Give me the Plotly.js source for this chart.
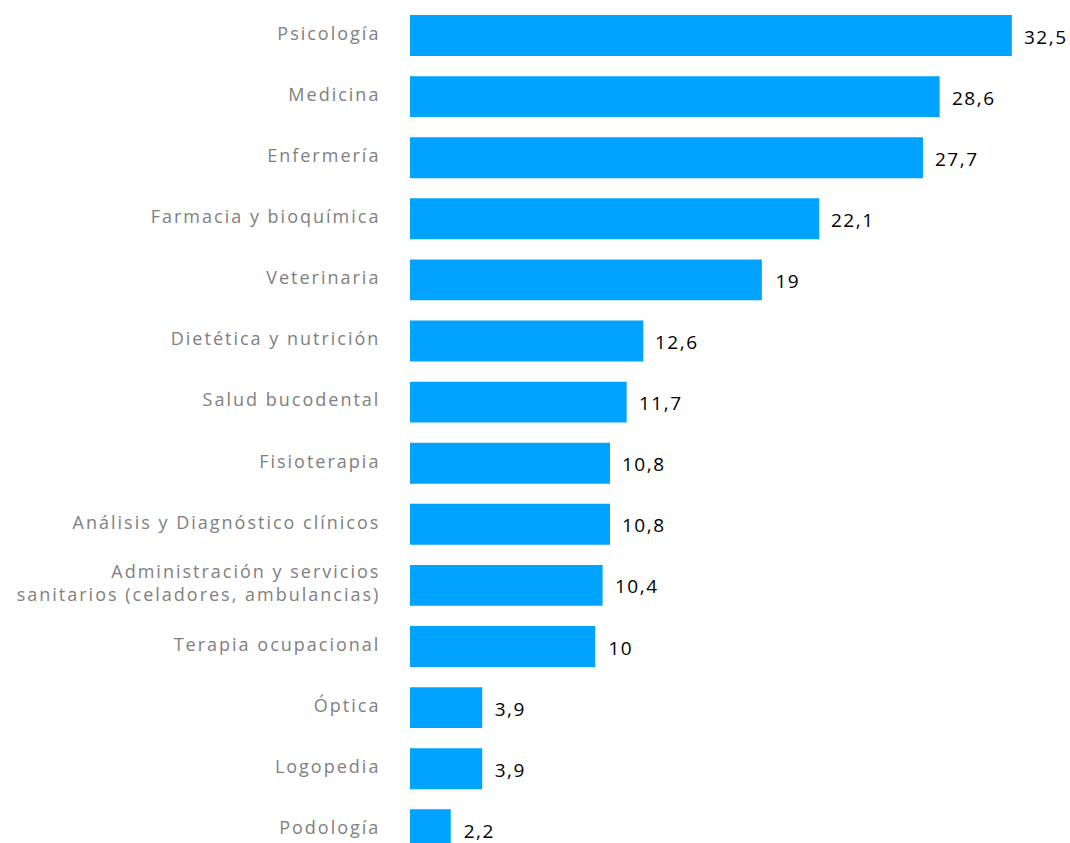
<!DOCTYPE html>
<html>
<head>
<meta charset="utf-8">
<script src="https://cdn.plot.ly/plotly-3.0.1.min.js"></script>
<style>
html,body{margin:0;padding:0;background:#fff;}
#chart{width:1070px;height:843px;}
#chart .ytick text{letter-spacing:2px;}
#chart .annotation-text{letter-spacing:1.5px;}
</style>
</head>
<body>
<div id="chart"></div>
<script>
const categories = [
  "Psicología",
  "Medicina",
  "Enfermería",
  "Farmacia y bioquímica",
  "Veterinaria",
  "Dietética y nutrición",
  "Salud bucodental",
  "Fisioterapia",
  "Análisis y Diagnóstico clínicos",
  "Administración y servicios<br>sanitarios (celadores, ambulancias)",
  "Terapia ocupacional",
  "Óptica",
  "Logopedia",
  "Podología"
];
const values = [32.5, 28.6, 27.7, 22.1, 19, 12.6, 11.7, 10.8, 10.8, 10.4, 10, 3.9, 3.9, 2.2];
const valueLabels = ["32,5", "28,6", "27,7", "22,1", "19", "12,6", "11,7", "10,8", "10,8", "10,4", "10", "3,9", "3,9", "2,2"];

const FONT = "'Open Sans', 'Noto Sans', sans-serif";

const trace = {
  type: "bar",
  orientation: "h",
  x: values,
  y: categories,
  marker: {color: "#00A3FF"},
  width: 0.67,
  hoverinfo: "none"
};

const annotations = values.map((v, i) => ({
  x: v,
  y: categories[i],
  xref: "x",
  yref: "y",
  text: valueLabels[i],
  showarrow: false,
  xanchor: "left",
  yanchor: "middle",
  xshift: 13,
  yshift: -1,
  font: {family: FONT, size: 19, color: "#000000", weight: 500}
}));

const layout = {
  width: 1070,
  height: 843,
  margin: {l: 410, r: 0, t: 0, b: 0, pad: 0},
  paper_bgcolor: "#ffffff",
  plot_bgcolor: "#ffffff",
  showlegend: false,
  xaxis: {
    range: [0, 35.64],
    showgrid: false,
    zeroline: false,
    showticklabels: false,
    showline: false,
    ticks: ""
  },
  yaxis: {
    type: "category",
    range: [13.216, -0.581],
    showgrid: false,
    zeroline: false,
    showline: false,
    ticks: "outside",
    ticklen: 25,
    ticklabelshift: 2,
    tickcolor: "rgba(0,0,0,0)",
    tickfont: {family: FONT, size: 18, color: "#808080"}
  },
  annotations: annotations
};

Plotly.newPlot("chart", [trace], layout, {displayModeBar: false, staticPlot: true});
</script>
</body>
</html>
